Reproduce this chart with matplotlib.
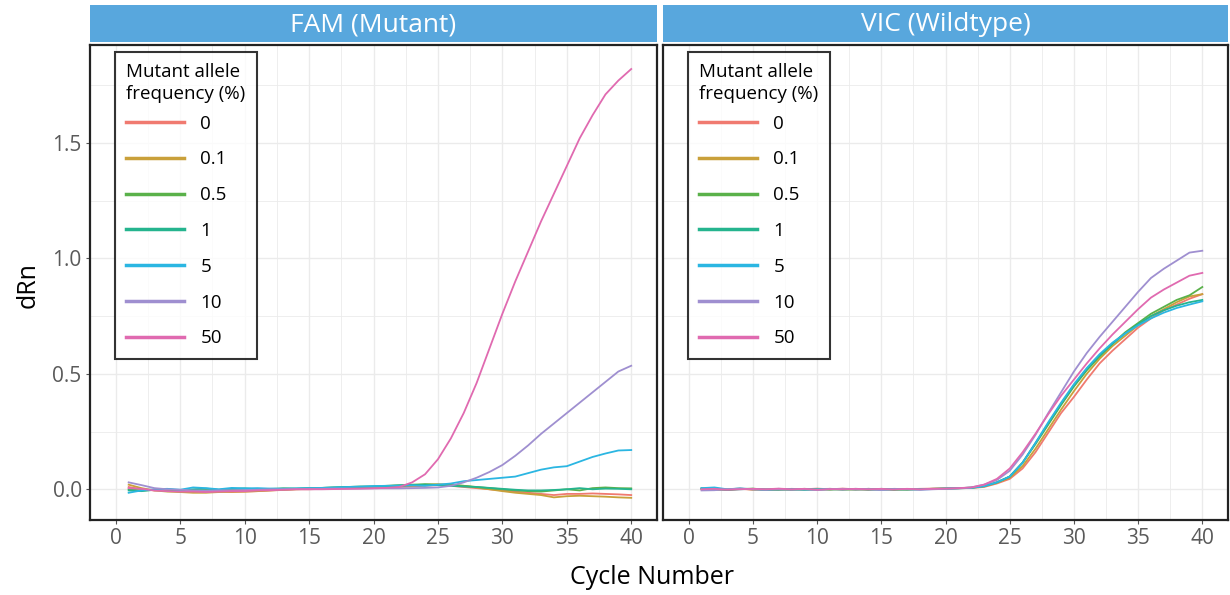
import numpy as np
import matplotlib
matplotlib.use("Agg")
import matplotlib.pyplot as plt
from matplotlib.ticker import MultipleLocator
from matplotlib.legend_handler import HandlerLine2D

plt.rcParams['font.family'] = ['Open Sans', 'DejaVu Sans']

cycles = list(range(1, 41))
freq_labels = ['0', '0.1', '0.5', '1', '5', '10', '50']
colors = ['#F07A70', '#C9A03A', '#5AB14A', '#25B48E', '#2BB6E2', '#9F8FD0', '#E06AB0']
panel_titles = ['FAM (Mutant)', 'VIC (Wildtype)']

# FAM channel (mutant probe), one list per allele frequency
fam_0 = [0.01, 0.0, -0.005, -0.005, -0.01, -0.01, -0.012, -0.01, -0.012, -0.01,
         -0.008, -0.005, -0.003, 0.0, 0.0, 0.002, 0.003, 0.004, 0.005, 0.006,
         0.008, 0.01, 0.012, 0.015, 0.018, 0.015, 0.01, 0.005, 0.0, -0.005,
         -0.01, -0.015, -0.02, -0.025, -0.02, -0.02, -0.018, -0.02, -0.022, -0.025]
fam_01 = [0.02, 0.005, -0.005, -0.01, -0.012, -0.015, -0.015, -0.012, -0.01, -0.01,
          -0.008, -0.005, -0.002, 0.0, 0.002, 0.003, 0.005, 0.006, 0.008, 0.01,
          0.012, 0.014, 0.016, 0.02, 0.022, 0.02, 0.015, 0.008, 0.0, -0.008,
          -0.015, -0.02, -0.025, -0.035, -0.03, -0.028, -0.03, -0.032, -0.035, -0.037]
fam_05 = [0.0, -0.005, -0.003, -0.005, -0.008, -0.005, -0.003, -0.005, -0.002, 0.0,
          -0.002, 0.0, 0.003, 0.002, 0.004, 0.006, 0.008, 0.01, 0.012, 0.012,
          0.015, 0.018, 0.02, 0.022, 0.02, 0.018, 0.015, 0.01, 0.005, 0.0,
          -0.005, -0.008, -0.01, -0.005, 0.0, -0.005, 0.005, 0.008, 0.005, 0.004]
fam_1 = [-0.005, -0.008, -0.002, 0.0, -0.005, 0.0, 0.003, -0.002, 0.002, 0.004,
         0.0, 0.002, 0.004, 0.003, 0.005, 0.006, 0.008, 0.01, 0.01, 0.012,
         0.014, 0.016, 0.018, 0.02, 0.018, 0.015, 0.012, 0.01, 0.006, 0.002,
         -0.002, -0.005, -0.005, -0.003, 0.0, 0.005, 0.0, 0.003, 0.002, 0.0]
fam_5 = [-0.015, -0.005, 0.0, 0.002, -0.002, 0.008, 0.005, 0.0, 0.006, 0.004,
         0.005, 0.003, 0.002, 0.004, 0.005, 0.006, 0.008, 0.01, 0.012, 0.014,
         0.015, 0.016, 0.017, 0.015, 0.02, 0.025, 0.035, 0.04, 0.045, 0.05,
         0.055, 0.07, 0.085, 0.095, 0.10, 0.12, 0.14, 0.155, 0.168, 0.17]
fam_10 = [0.03, 0.018, 0.005, 0.0, -0.002, -0.005, -0.006, -0.005, -0.004, -0.003,
          -0.002, 0.0, 0.0, 0.001, 0.002, 0.002, 0.003, 0.003, 0.003, 0.004,
          0.004, 0.004, 0.005, 0.006, 0.008, 0.015, 0.03, 0.05, 0.075, 0.105,
          0.145, 0.19, 0.24, 0.285, 0.33, 0.375, 0.42, 0.465, 0.51, 0.535]
fam_50 = [0.005, 0.002, -0.005, -0.008, -0.01, -0.01, -0.012, -0.01, -0.008, -0.008,
          -0.005, -0.004, -0.002, 0.0, 0.0, 0.0, 0.001, 0.002, 0.003, 0.004,
          0.006, 0.01, 0.03, 0.065, 0.13, 0.22, 0.33, 0.46, 0.61, 0.76,
          0.90, 1.03, 1.16, 1.28, 1.40, 1.52, 1.62, 1.71, 1.77, 1.82]

# VIC channel (wildtype probe)
vic_0 = [0.0, 0.0, -0.003, 0.002, -0.002, 0.0, -0.002, 0.002, 0.0, 0.003,
         0.0, 0.003, 0.0, 0.002, -0.002, 0.002, 0.0, 0.002, 0.003, 0.004,
         0.005, 0.006, 0.01, 0.025, 0.045, 0.09, 0.16, 0.245, 0.33, 0.40,
         0.475, 0.545, 0.60, 0.65, 0.70, 0.74, 0.775, 0.80, 0.825, 0.845]
vic_01 = [0.002, -0.002, 0.0, 0.003, -0.001, -0.002, 0.001, 0.0, -0.003, 0.001,
          0.002, -0.002, 0.001, -0.003, 0.0, 0.001, -0.002, 0.001, 0.002, 0.003,
          0.004, 0.006, 0.012, 0.028, 0.05, 0.10, 0.175, 0.26, 0.345, 0.425,
          0.50, 0.565, 0.62, 0.665, 0.71, 0.75, 0.78, 0.81, 0.835, 0.845]
vic_05 = [0.003, 0.0, -0.002, 0.001, 0.003, -0.002, 0.0, -0.003, 0.002, 0.0,
          -0.002, 0.001, -0.002, 0.002, 0.0, -0.003, 0.001, 0.0, 0.002, 0.003,
          0.005, 0.007, 0.014, 0.03, 0.055, 0.115, 0.195, 0.28, 0.365, 0.445,
          0.515, 0.575, 0.63, 0.68, 0.72, 0.76, 0.79, 0.82, 0.84, 0.876]
vic_1 = [0.004, 0.002, -0.002, 0.0, 0.002, -0.001, -0.002, 0.001, 0.0, -0.002,
         0.002, 0.0, 0.001, -0.001, 0.002, 0.0, -0.001, 0.001, 0.002, 0.003,
         0.005, 0.007, 0.014, 0.03, 0.055, 0.115, 0.20, 0.285, 0.37, 0.45,
         0.52, 0.58, 0.63, 0.675, 0.715, 0.75, 0.775, 0.795, 0.81, 0.82]
vic_5 = [0.005, 0.008, 0.0, 0.004, 0.0, -0.002, 0.002, 0.0, -0.002, 0.0,
         0.001, -0.001, 0.002, 0.0, -0.002, 0.001, 0.0, -0.001, 0.001, 0.003,
         0.004, 0.006, 0.013, 0.03, 0.055, 0.115, 0.20, 0.29, 0.375, 0.455,
         0.525, 0.585, 0.635, 0.675, 0.71, 0.74, 0.765, 0.785, 0.80, 0.814]
vic_10 = [-0.005, -0.004, 0.0, 0.003, 0.0, -0.002, 0.0, -0.002, 0.001, -0.003,
          0.0, 0.002, -0.001, 0.0, -0.003, 0.0, 0.001, -0.002, 0.0, 0.002,
          0.004, 0.008, 0.02, 0.04, 0.08, 0.15, 0.235, 0.33, 0.42, 0.51,
          0.59, 0.66, 0.725, 0.79, 0.855, 0.915, 0.955, 0.99, 1.025, 1.033]
vic_50 = [0.0, 0.002, -0.002, 0.0, 0.002, 0.0, 0.003, 0.0, 0.002, -0.002,
          0.001, 0.0, 0.002, 0.0, 0.002, -0.001, 0.002, 0.0, 0.002, 0.003,
          0.005, 0.008, 0.02, 0.045, 0.09, 0.16, 0.24, 0.325, 0.405, 0.475,
          0.545, 0.61, 0.67, 0.725, 0.78, 0.83, 0.865, 0.895, 0.925, 0.937]

fam = [fam_0, fam_01, fam_05, fam_1, fam_5, fam_10, fam_50]
vic = [vic_0, vic_01, vic_05, vic_1, vic_5, vic_10, vic_50]


class IndentedLine(HandlerLine2D):
    """Legend key line that leaves a gap on its left side."""
    def __init__(self, indent, **kw):
        super().__init__(**kw)
        self.indent = indent

    def create_artists(self, legend, orig_handle, xdescent, ydescent,
                       width, height, fontsize, trans):
        arts = super().create_artists(legend, orig_handle, xdescent, ydescent,
                                      width, height, fontsize, trans)
        for a in arts:
            xd = a.get_xdata()
            if len(xd) == 2:
                a.set_xdata([xd[0] + self.indent, xd[1]])
        return arts


W, H = 1230, 595
fig = plt.figure(figsize=(W / 100, H / 100), dpi=100)

panels = [(90, 657), (663, 1228)]
top, bottom = 45, 520
strip_top, strip_bottom = 5, 42
strip_color = '#58A7DD'
grid_color = '#EBEBEB'
leg_fs = 13.5

for i, (x0, x1) in enumerate(panels):
    ax = fig.add_axes([x0 / W, 1 - bottom / H, (x1 - x0) / W, (bottom - top) / H])
    data = fam if i == 0 else vic
    for vals, c, lab in zip(data, colors, freq_labels):
        ax.plot(cycles, vals, color=c, lw=1.3, label=lab)

    ax.set_xlim(-2, 42)
    ax.set_ylim(-0.133, 1.924)
    ax.xaxis.set_major_locator(MultipleLocator(5))
    ax.xaxis.set_minor_locator(MultipleLocator(2.5))
    ax.yaxis.set_major_locator(MultipleLocator(0.5))
    ax.yaxis.set_minor_locator(MultipleLocator(0.25))
    ax.grid(which='major', color=grid_color, lw=1.0)
    ax.grid(which='minor', color=grid_color, lw=0.6)
    ax.set_axisbelow(True)
    ax.tick_params(which='minor', length=0)
    ax.tick_params(which='major', length=3, width=0.8, color='#555555',
                   labelcolor='#5a5a5a', labelsize=15, pad=3)
    ax.xaxis.set_major_formatter(plt.FuncFormatter(lambda v, p: '%d' % v))
    if i == 0:
        ax.yaxis.set_major_formatter(plt.FuncFormatter(lambda v, p: '%.1f' % v))
    else:
        ax.tick_params(axis='y', left=False, labelleft=False)
    for s in ax.spines.values():
        s.set_color('#222222')
        s.set_linewidth(1.6)

    handles, labels = ax.get_legend_handles_labels()
    leg = ax.legend(handles, labels, title='Mutant allele\nfrequency (%)',
                    loc='upper left',
                    bbox_to_anchor=(25 / (x1 - x0), 1 - 7 / (bottom - top)),
                    borderaxespad=0, fontsize=leg_fs, title_fontsize=leg_fs,
                    frameon=True, fancybox=False, edgecolor='black',
                    handlelength=3.1, handletextpad=0.85, labelspacing=0.95,
                    borderpad=0.6, alignment='left',
                    handler_map={h: IndentedLine(18) for h in handles})
    leg.get_title().set_linespacing(1.3)
    # tighter gap between the title and the first key
    leg._legend_box.sep = 8
    leg.get_frame().set_linewidth(1.5)
    for ln in leg.get_lines():
        ln.set_linewidth(2.5)

    sax = fig.add_axes([x0 / W, 1 - strip_bottom / H, (x1 - x0) / W,
                        (strip_bottom - strip_top) / H])
    sax.set_facecolor(strip_color)
    sax.set_xticks([])
    sax.set_yticks([])
    for s in sax.spines.values():
        s.set_visible(False)
    sax.text(0.5, 0.47, panel_titles[i], color='white', fontsize=19,
             ha='center', va='center', transform=sax.transAxes)

fig.text(652 / W, 1 - 578 / H, 'Cycle Number', fontsize=18, ha='center', va='center')
fig.text(28 / W, 1 - 285 / H, 'dRn', fontsize=18, rotation=90, ha='center', va='center')

fig.savefig('out.png', dpi=100)
